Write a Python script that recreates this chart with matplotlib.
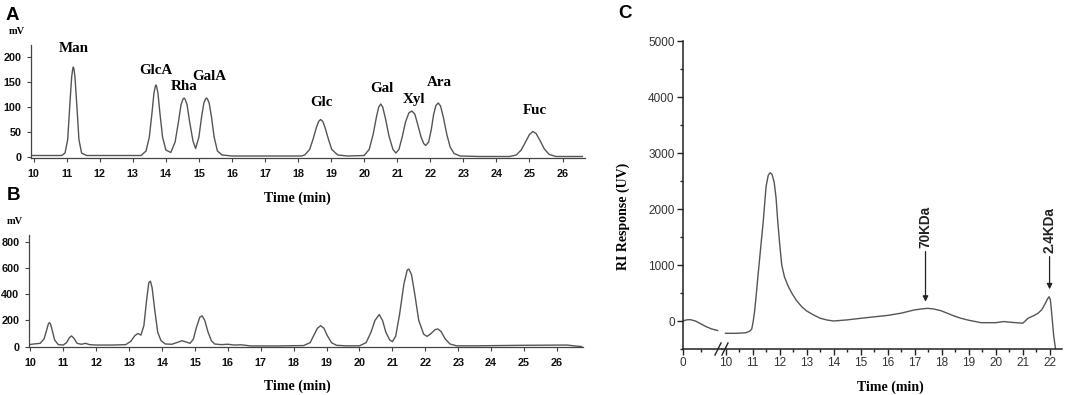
import matplotlib.pyplot as plt
from matplotlib.lines import Line2D
from matplotlib.ticker import MultipleLocator, FixedLocator

# panel A - standard monosaccharides (time min, mV)
a_time = [9.92, 10.5, 10.85, 10.95, 11.03, 11.1, 11.15, 11.18, 11.2, 11.22, 11.25, 11.3, 11.37, 11.45, 11.6, 12.5,
          13.25, 13.4, 13.5, 13.58, 13.64, 13.68, 13.7, 13.72, 13.76, 13.82, 13.9, 14.0, 14.15,
          14.28, 14.38, 14.46, 14.52, 14.55, 14.58, 14.64, 14.72, 14.82, 14.9,
          15.0, 15.08, 15.15, 15.2, 15.23, 15.26, 15.31, 15.38, 15.46, 15.56, 15.7, 16.0, 17.0, 18.1,
          18.2, 18.35, 18.45, 18.55, 18.62, 18.68, 18.75, 18.82, 18.92, 19.02, 19.2, 19.5, 20.0,
          20.15, 20.27, 20.37, 20.44, 20.5, 20.56, 20.65, 20.75, 20.87, 20.96,
          21.05, 21.15, 21.25, 21.35, 21.44, 21.53, 21.62, 21.72, 21.8, 21.86,
          21.95, 22.03, 22.1, 22.17, 22.24, 22.31, 22.4, 22.5, 22.6, 22.72, 22.9, 23.5,
          24.4, 24.6, 24.75, 24.88, 25.0, 25.1, 25.2, 25.32, 25.45, 25.6, 25.8, 26.6]
a_mv = [3, 3, 3, 8, 35, 110, 160, 175, 180, 176, 160, 110, 35, 8, 3, 3,
        3, 12, 40, 88, 128, 141, 144, 141, 128, 88, 40, 14, 9,
        30, 70, 105, 116, 118, 116, 105, 70, 32, 17,
        40, 80, 108, 116, 118, 116, 108, 80, 40, 12, 4, 2, 2, 2,
        4, 15, 35, 58, 71, 75, 71, 58, 35, 15, 4, 2, 3,
        15, 45, 80, 100, 106, 100, 75, 42, 15, 8,
        15, 40, 70, 88, 92, 86, 65, 40, 27, 23,
        30, 55, 85, 103, 108, 102, 78, 45, 20, 7, 2, 1,
        1, 4, 14, 30, 45, 51, 47, 33, 16, 5, 1, 1]
peak_names = ['Man', 'GlcA', 'Rha', 'GalA', 'Glc', 'Gal', 'Xyl', 'Ara', 'Fuc']
peak_lab_x = [11.22, 13.71, 14.56, 15.3, 18.72, 20.52, 21.52, 22.28, 25.17]
peak_lab_y = [218, 172, 142, 162, 108, 136, 116, 150, 94]

# panel B - sample
b_time = [9.96, 10.1, 10.3, 10.42, 10.5, 10.55, 10.58, 10.61, 10.66, 10.74, 10.85, 11.0, 11.1, 11.18, 11.25, 11.32,
          11.42, 11.55, 11.68, 11.8, 12.0, 12.5, 12.9, 13.05, 13.18, 13.27, 13.36, 13.45, 13.53,
          13.6, 13.65, 13.7, 13.78, 13.87, 13.97, 14.1, 14.3, 14.5, 14.6, 14.7, 14.85, 14.95,
          15.05, 15.15, 15.22, 15.3, 15.4, 15.5, 15.6, 15.8, 16.0, 16.2, 16.4, 16.7, 17.5, 18.3,
          18.5, 18.62, 18.72, 18.82, 18.92, 19.02, 19.15, 19.3, 19.6, 20.0, 20.2, 20.35, 20.47,
          20.6, 20.7, 20.8, 20.92, 21.0, 21.1, 21.22, 21.35, 21.45, 21.5, 21.58, 21.68, 21.8,
          21.95, 22.05, 22.15, 22.3, 22.38, 22.48, 22.6, 22.75, 22.95, 23.5, 25.0, 26.3, 26.55, 26.75]
b_mv = [15, 20, 25, 60, 130, 175, 183, 175, 130, 50, 15, 12, 30, 65, 82, 65,
        25, 18, 25, 15, 12, 12, 15, 40, 85, 100, 88, 160, 350,
        490, 500, 450, 280, 110, 45, 20, 18, 35, 45, 38, 25, 55,
        150, 225, 235, 200, 110, 45, 20, 15, 18, 12, 14, 5, 5, 8,
        30, 90, 140, 160, 140, 85, 30, 10, 6, 6, 30, 110, 200,
        245, 200, 110, 50, 38, 80, 250, 480, 585, 593, 550, 400, 200,
        95, 78, 95, 130, 135, 115, 60, 20, 6, 6, 10, 12, 5, 0]

# panel C - molecular weight (broken time axis)
c1_time = [0.0, 0.2, 0.4, 0.7, 1.0, 1.3, 1.6, 1.95]
c1_ri = [0, 20, 25, 0, -50, -100, -140, -170]
c2_time = [10.0, 10.4, 10.75, 10.9, 10.97, 11.02, 11.07, 11.12, 11.18, 11.24, 11.32, 11.4, 11.5, 11.58, 11.65,
           11.72, 11.8, 11.87, 11.93, 12.0, 12.08, 12.18, 12.3, 12.45, 12.62, 12.82, 13.0, 13.26, 13.5, 13.75,
           14.0, 14.5, 15.0, 16.0, 16.5,
           16.97, 17.25, 17.47, 17.7, 17.97, 18.2, 18.46, 18.7, 18.96, 19.45, 20.0, 20.3, 20.6, 21.0, 21.19,
           21.4, 21.56, 21.7, 21.8, 21.9, 21.97, 22.02, 22.08, 22.14, 22.21]
c2_ri = [-220, -220, -210, -180, -143, -20, 150, 380, 700, 1000, 1400, 1800, 2400, 2600, 2648,
         2620, 2480, 2200, 1800, 1400, 1000, 790, 640, 500, 370, 255, 180, 107, 50, 18,
         0, 20, 48, 100, 140,
         196, 215, 226, 215, 184, 140, 89, 50, 18, -30, -30, -10, -25, -40, 48,
         95, 137, 200, 285, 380, 434, 380, 77, -250, -500]
mw_labels = ['70KDa', '2.4KDa']
mw_time = [17.4, 21.99]
mw_top = [1240, 1150]
mw_tip = [345, 566]

W, H = 1065, 395
line_col = '#555555'
serif = 'Liberation Serif'
sans = 'Liberation Sans'

fig = plt.figure(figsize=(W / 100, H / 100), dpi=100)


def rect(l, t, r, b):
    return [l / W, 1 - b / H, (r - l) / W, (b - t) / H]


def style_ab(ax):
    for s in ['top', 'right']:
        ax.spines[s].set_visible(False)
    for s in ['left', 'bottom']:
        ax.spines[s].set_color('#444444')
        ax.spines[s].set_linewidth(0.9)
    ax.tick_params(direction='out', length=3, width=0.8, color='#444444',
                   labelsize=7.8, labelcolor='#111111')
    ax.tick_params(axis='x', pad=5)
    ax.tick_params(axis='y', pad=4)
    for lab in ax.get_xticklabels() + ax.get_yticklabels():
        lab.set_fontfamily(sans)
        lab.set_fontweight('bold')
    ax.xaxis.set_major_locator(MultipleLocator(1))


# ---- A ----
axA = fig.add_axes(rect(31, 45, 585, 158))
axA.plot(a_time, a_mv, color=line_col, lw=1.0)
axA.set_xlim(9.92, 26.68)
axA.set_ylim(-2, 224)
axA.set_yticks([0, 50, 100, 150, 200])
style_ab(axA)
for name, x, y in zip(peak_names, peak_lab_x, peak_lab_y):
    axA.text(x, y, name, ha='center', va='center', fontsize=10.8,
             fontweight='bold', family=serif)

# ---- B ----
axB = fig.add_axes(rect(29, 235, 583, 347))
axB.plot(b_time, b_mv, color=line_col, lw=1.0)
axB.set_xlim(9.96, 26.79)
axB.set_ylim(-3, 853)
axB.set_yticks([0, 200, 400, 600, 800])
style_ab(axB)

for t, x, y in [('A', 12, 16), ('B', 13, 196), ('C', 625, 13)]:
    fig.text(x / W, 1 - y / H, t, ha='center', va='center', fontsize=13.5,
             fontweight='bold', family=sans)
for x, y in [(17, 32), (15, 222)]:
    fig.text(x / W, 1 - y / H, 'mV', ha='center', va='center', fontsize=7.5,
             fontweight='bold', family=serif)
for x, y in [(297, 198), (297, 386), (890, 387)]:
    fig.text(x / W, 1 - y / H, 'Time (min)', ha='center', va='center', fontsize=10,
             fontweight='bold', family=serif)
fig.text(623 / W, 1 - 216 / H, 'RI Response (UV)', ha='center', va='center',
         rotation=90, fontsize=10, fontweight='bold', family=serif)

# ---- C (broken x axis) ----
axC1 = fig.add_axes(rect(683, 41, 722, 349))
axC2 = fig.add_axes(rect(722, 41, 1062, 349))
axC1.plot(c1_time, c1_ri, color=line_col, lw=1.0)
axC2.plot(c2_time, c2_ri, color=line_col, lw=1.0)
axC1.set_xlim(0, 2.2)
axC2.set_xlim(9.87, 22.45)
for ax in (axC1, axC2):
    ax.set_ylim(-500, 5000)
    ax.spines['top'].set_visible(False)
    ax.spines['right'].set_visible(False)
    for s in ['left', 'bottom']:
        ax.spines[s].set_color('#222222')
        ax.spines[s].set_linewidth(1.1)
    ax.tick_params(which='major', direction='out', length=4, width=1.0, color='#222222',
                   labelsize=8.5, labelcolor='#333333', pad=2)
    ax.tick_params(which='minor', direction='out', length=2.2, width=1.0, color='#222222')
axC1.set_xticks([0])
axC1.xaxis.set_minor_locator(FixedLocator([1]))
axC1.set_yticks([0, 1000, 2000, 3000, 4000, 5000])
axC1.yaxis.set_minor_locator(MultipleLocator(500))
axC2.spines['left'].set_visible(False)
axC2.set_yticks([])
axC2.xaxis.set_major_locator(MultipleLocator(1))
axC2.xaxis.set_minor_locator(MultipleLocator(0.5))
for ax in (axC1, axC2):
    for lab in ax.get_xticklabels() + ax.get_yticklabels():
        lab.set_fontfamily(sans)

for name, x, top, tip in zip(mw_labels, mw_time, mw_top, mw_tip):
    axC2.annotate('', xy=(x, tip), xytext=(x, top),
                  arrowprops=dict(arrowstyle='-|>', color='#222222', lw=0.9,
                                  mutation_scale=8, shrinkA=0, shrinkB=0))
    axC2.text(x, top + 60, name, rotation=90, ha='center', va='bottom',
              fontsize=9.8, fontweight='bold', family=sans, color='#222222')

# break marks on the time axis
for dx in (-4, 3):
    xc = 722 + dx
    fig.add_artist(Line2D([(xc - 3) / W, (xc + 3) / W], [1 - 355 / H, 1 - 343 / H],
                          color='#222222', lw=1.0))

fig.savefig('out.png', dpi=100)
